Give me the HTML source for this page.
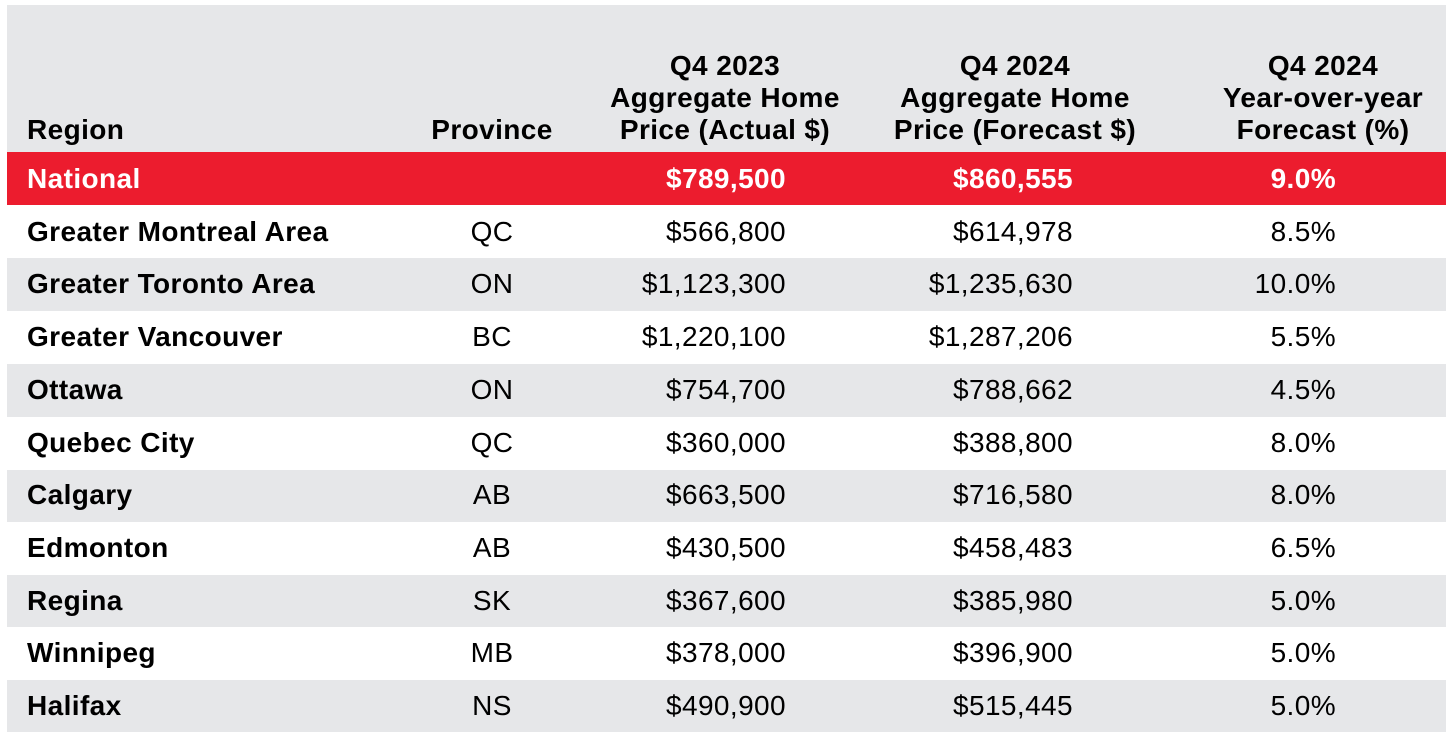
<!DOCTYPE html>
<html><head><style>
body{margin:0;width:1454px;height:732px;background:#fff;font-family:"Liberation Sans",Arial,sans-serif;color:#000;overflow:hidden;position:relative}
.bg{position:absolute;left:7px;width:1439px}
.t{position:absolute;font-size:28px;line-height:30px;letter-spacing:0.4px;white-space:nowrap}
.b{font-weight:bold}
.h{position:absolute;font-size:28px;line-height:32px;letter-spacing:0.4px;font-weight:bold;text-align:center;white-space:nowrap}
</style></head><body>
<div class="bg" style="top:5px;height:147px;background:#e6e7e9"></div>
<div class="bg" style="top:152px;height:53px;background:#ec1c2e"></div>
<div class="bg" style="top:258px;height:53px;background:#e6e7e9"></div>
<div class="bg" style="top:364px;height:53px;background:#e6e7e9"></div>
<div class="bg" style="top:470px;height:52px;background:#e6e7e9"></div>
<div class="bg" style="top:575px;height:52px;background:#e6e7e9"></div>
<div class="bg" style="top:680px;height:52px;background:#e6e7e9"></div>

<div class="h" style="left:27px;top:114px;text-align:left">Region</div>
<div class="h" style="left:412px;width:160px;top:114px">Province</div>
<div class="h" style="left:595px;width:260px;top:50px">Q4 2023<br>Aggregate Home<br>Price (Actual $)</div>
<div class="h" style="left:885px;width:260px;top:50px">Q4 2024<br>Aggregate Home<br>Price (Forecast $)</div>
<div class="h" style="left:1193px;width:260px;top:50px">Q4 2024<br>Year-over-year<br>Forecast (%)</div>

<div id="rows"></div>
<script>
var d=[["National","","$789,500","$860,555","9.0%"],
["Greater Montreal Area","QC","$566,800","$614,978","8.5%"],
["Greater Toronto Area","ON","$1,123,300","$1,235,630","10.0%"],
["Greater Vancouver","BC","$1,220,100","$1,287,206","5.5%"],
["Ottawa","ON","$754,700","$788,662","4.5%"],
["Quebec City","QC","$360,000","$388,800","8.0%"],
["Calgary","AB","$663,500","$716,580","8.0%"],
["Edmonton","AB","$430,500","$458,483","6.5%"],
["Regina","SK","$367,600","$385,980","5.0%"],
["Winnipeg","MB","$378,000","$396,900","5.0%"],
["Halifax","NS","$490,900","$515,445","5.0%"]];
var h="";
d.forEach(function(r,i){
 var y=152+i*52.7+12; var n=i==0;
 var st=n?"color:#fff;font-weight:bold;":"";
 h+='<div class="t b" style="left:27px;top:'+y+'px;'+st+'">'+r[0]+'</div>';
 h+='<div class="t" style="left:412px;width:160px;text-align:center;top:'+y+'px;'+st+'">'+r[1]+'</div>';
 h+='<div class="t" style="right:'+(1454-786)+'px;top:'+y+'px;'+st+'">'+r[2]+'</div>';
 h+='<div class="t" style="right:'+(1454-1073)+'px;top:'+y+'px;'+st+'">'+r[3]+'</div>';
 h+='<div class="t" style="right:'+(1454-1336)+'px;top:'+y+'px;'+st+'">'+r[4]+'</div>';
});
document.getElementById("rows").innerHTML=h;
</script>
</body></html>
